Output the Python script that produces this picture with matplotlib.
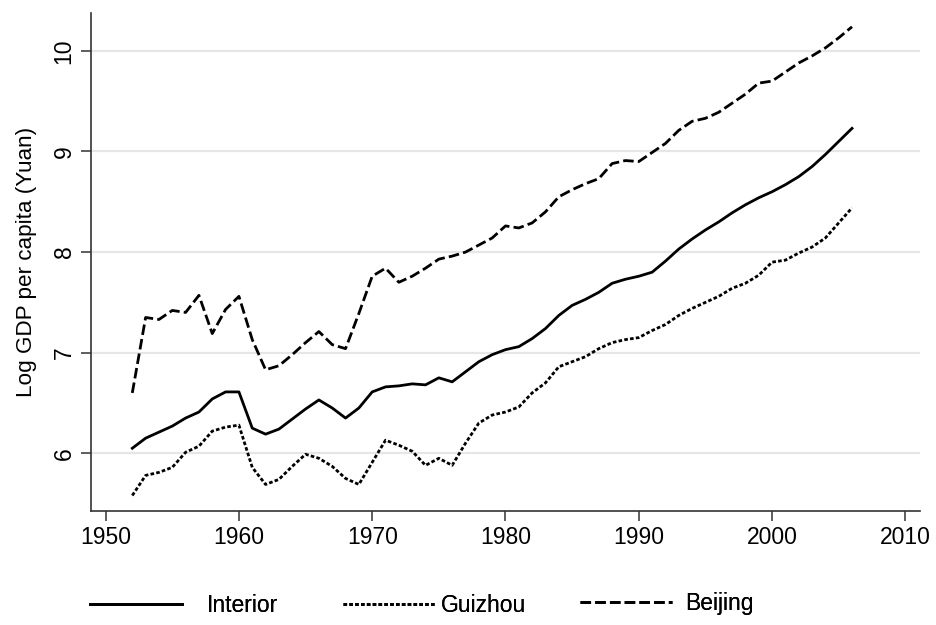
import matplotlib
matplotlib.use("Agg")
import matplotlib.pyplot as plt
import numpy as np

years = list(range(1952, 2007))

interior = [6.05, 6.15, 6.21, 6.27, 6.35, 6.41, 6.54, 6.61, 6.61, 6.25,
            6.19, 6.24, 6.34, 6.44, 6.53, 6.45, 6.35, 6.45, 6.61, 6.66,
            6.67, 6.69, 6.68, 6.75, 6.71, 6.81, 6.91, 6.98, 7.03, 7.06,
            7.14, 7.24, 7.37, 7.47, 7.53, 7.60, 7.69, 7.73, 7.76, 7.80,
            7.91, 8.03, 8.13, 8.22, 8.30, 8.39, 8.47, 8.54, 8.60, 8.67,
            8.75, 8.85, 8.97, 9.10, 9.23]

guizhou = [5.58, 5.78, 5.81, 5.86, 6.01, 6.07, 6.22, 6.26, 6.28, 5.86,
           5.69, 5.74, 5.87, 5.99, 5.95, 5.87, 5.75, 5.69, 5.91, 6.13,
           6.08, 6.02, 5.88, 5.95, 5.88, 6.10, 6.30, 6.38, 6.41, 6.46,
           6.60, 6.70, 6.86, 6.91, 6.96, 7.04, 7.10, 7.13, 7.15, 7.22,
           7.28, 7.37, 7.44, 7.50, 7.56, 7.64, 7.69, 7.77, 7.90, 7.92,
           7.99, 8.05, 8.14, 8.29, 8.44]

beijing = [6.60, 7.35, 7.33, 7.42, 7.40, 7.57, 7.19, 7.43, 7.56, 7.13,
           6.83, 6.87, 6.98, 7.10, 7.21, 7.08, 7.04, 7.39, 7.76, 7.84,
           7.70, 7.76, 7.84, 7.93, 7.96, 8.00, 8.07, 8.14, 8.26, 8.24,
           8.29, 8.40, 8.55, 8.62, 8.68, 8.73, 8.88, 8.91, 8.90, 8.99,
           9.08, 9.21, 9.30, 9.33, 9.39, 9.48, 9.57, 9.68, 9.70, 9.79,
           9.88, 9.95, 10.03, 10.13, 10.24]

series_names = ["Interior", "Guizhou", "Beijing"]
xticks = [1950, 1960, 1970, 1980, 1990, 2000, 2010]
yticks = [6, 7, 8, 9, 10]

plt.rcParams['font.family'] = ['Liberation Sans', 'DejaVu Sans']

fig = plt.figure(figsize=(9.36, 6.25), dpi=100)
ax = fig.add_axes([0.0972, 0.1832, 0.8857, 0.7965])

lw = 2.0
dash_styles = [None, (1.3, 0.8), (3.8, 1.5)]
handles = []
for name, vals, dashes in zip(series_names, [interior, guizhou, beijing], dash_styles):
    if dashes is None:
        ln, = ax.plot(years, vals, color='black', lw=lw, ls='-', label=name,
                      solid_joinstyle='round')
    else:
        ln, = ax.plot(years, vals, color='black', lw=lw, ls='--', dashes=dashes,
                      label=name)
    handles.append(ln)

ax.set_xlim(1948.9, 2011.1)
ax.set_ylim(5.431, 10.38)
ax.set_xticks(xticks)
ax.set_yticks(yticks)
ax.set_yticklabels([str(t) for t in yticks], rotation=90, va='center')
ax.grid(axis='y', color='#e6e6e6', lw=1.6)
ax.set_axisbelow(True)
for s in ['top', 'right']:
    ax.spines[s].set_visible(False)
for s in ['left', 'bottom']:
    ax.spines[s].set_color('#333333')
    ax.spines[s].set_linewidth(1.2)
ax.tick_params(axis='both', direction='out', length=7, width=1.1,
               color='#333333', labelsize=16.5, pad=4)
ax.set_ylabel("Log GDP per capita (Yuan)", fontsize=16.2, labelpad=11)

# one legend entry per block, placed at the reference positions
leg_x = [0.0962, 0.3665, 0.6197]
leg_y = [0.031, 0.031, 0.034]
text_pad = [1.1, 0.25, 0.6]
for h, name, x0, y0, tp in zip(handles, series_names, leg_x, leg_y, text_pad):
    leg = fig.legend(handles=[h], labels=[name], loc='center left',
                     bbox_to_anchor=(x0, y0), frameon=False,
                     fontsize=16.5, handlelength=4.0, handletextpad=tp,
                     borderpad=0, borderaxespad=0)
    fig.add_artist(leg)

fig.savefig("out.png", dpi=100)
